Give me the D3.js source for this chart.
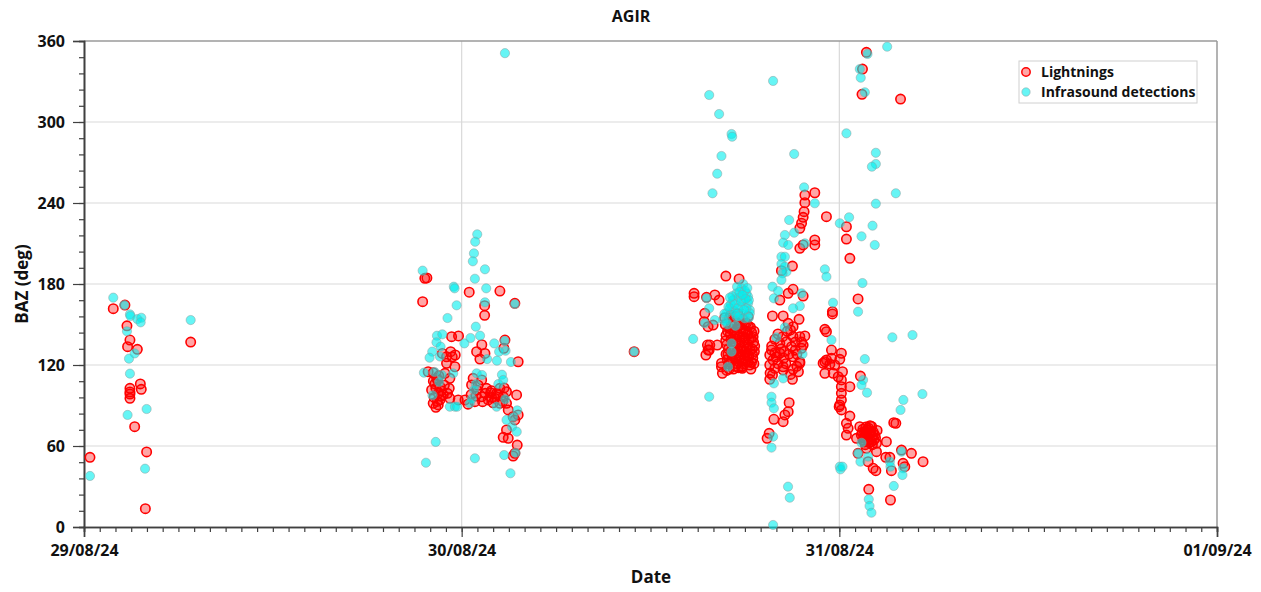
<!DOCTYPE html>
<html>
<head>
<meta charset="utf-8">
<script src="https://cdn.jsdelivr.net/npm/d3@7"></script>
<style>
  body { margin: 0; background: #fff; }
  text { font-family: "Open Sans", "Noto Sans", sans-serif; font-weight: bold; fill: #111; }
</style>
</head>
<body>
<script>
var w = 1261;
var h = 592;

// [hours since 29/08/24 00:00, BAZ in deg]
var lightningsDay29 = [
  [0.38,51.6],[1.86,161.7],[2.6,164.4],[2.73,149],[2.92,138.5],[2.77,133.6],[3.39,131.6],
  [3.58,106],[3.64,102],[2.92,102.7],[2.92,98.5],[2.92,95.3],[2.92,100],[3.22,74.3],
  [3.98,55.6],[3.9,13.6],[6.78,137]
];
var lightningsDay30 = [
  [21.66,184.2],[21.79,184.5],[21.52,166.9],[24.48,173.9],[26.43,174.8],[25.46,163.9],[25.46,156.8],
  [27.38,165.7],[23.36,141],[23.8,141.5],[22.77,128.6],[23.3,129.9],[23.4,126.1],[23.04,121.3],
  [23.57,118.7],[22.19,114.3],[21.87,115],[22.41,110.1],[22.94,113.8],[23.25,110.1],[22.62,104],
  [22.36,102.7],[23.21,102.7],[22.51,99],[22.83,97.8],[22.19,91.6],[22.51,90.4],[22.36,88.7],
  [22.62,94.1],[22.09,101.5],[23.25,95.3],[22.47,108.9],[24.73,110.1],[24.63,105.2],[25.27,108.9],
  [24.95,101.5],[25.58,102.7],[25.27,96.5],[24.84,92.8],[24.21,94.1],[23.78,94.1],[25.33,92.8],
  [25.69,94.1],[25.84,99.5],[26.75,138.5],[26.68,132.4],[24.95,129.9],[25.48,128.6],[27.59,122.4],
  [26.43,102.7],[26.22,99],[26.85,100.2],[26.64,96.5],[26.11,95.3],[26.43,91.6],[26.85,91.6],
  [26.96,86.7],[27.49,97.8],[27.27,81.7],[27.38,79.3],[26.85,71.9],[26.64,66.4],[26.96,65.7],
  [27.53,60.7],[27.38,54.6],[27.27,52.6],[27.59,83],[23.59,127.4],[23.04,126.1],[25.16,124.4],
  [25.28,135],[22.3,106],[22.7,97],[26.3,98],[26.6,93],[25.9,96],
  [22.25,96],[22.45,93],[22.7,101],[22.9,105],[23.1,99],[22.2,108],[22.55,112],[24.6,98],
  [24.9,97],[25.05,105],[25.5,99],[25.9,101],[26.0,92],[26.7,103],[24.4,91]
];
var lightningsDay31 = [
  [34.96,129.9],[38.77,173.1],[38.77,170.6],[39.56,170.1],[40.09,171.9],[40.36,168.1],[39.45,158.3],
  [39.41,152.1],[39.98,149.6],[39.66,148.4],[39.77,134.8],[39.66,131.1],[40.24,134.8],[39.52,127.4],
  [40.79,185.9],[41.63,183.7],[40.51,118.7],[40.57,113.8],[41.78,118.3],[40.51,121.3],[39.62,134.8],
  [39.73,131.1],[41.83,117.6],
  [40.75,150],[40.8,142],[40.85,135],[40.92,128],[40.97,121],[41.02,155],[41.05,147],[41.12,139],
  [41.15,131],[41.2,124],[41.27,117],[41.3,152],[41.35,144],[41.42,136],[41.45,129],[41.5,121],
  [41.55,158],[41.62,149],[41.65,141],[41.7,133],[41.75,126],[41.8,119],[41.87,154],[41.9,146],
  [41.95,138],[42.02,130],[42.05,123],[42.1,151],[42.17,143],[42.2,135],[42.25,127],[42.3,120],
  [42.35,148],[42.4,140],[42.45,132],[42.5,125],[42.55,137],[40.9,145],[41.22,137],[41.52,143],
  [41.82,130],[42.12,127],[42.42,122],[41.1,122],[41.6,127],[41.33,130],[42.0,140],[41.7,150],
  [42.6,130],[42.58,145],[40.8,128],
  [40.72,155],[40.78,138],[40.88,124],[40.95,132],[41.0,117],[41.08,143],[41.13,151],[41.18,127],
  [41.25,134],[41.28,146],[41.38,125],[41.4,156],[41.47,139],[41.53,132],[41.58,118],[41.6,153],
  [41.68,137],[41.72,145],[41.78,123],[41.85,141],[41.92,134],[41.97,150],[42.0,125],[42.07,145],
  [42.13,132],[42.18,122],[42.22,149],[42.28,139],[42.33,131],[42.38,117],[42.43,144],[42.48,128],
  [42.52,141],[42.57,121],[42.62,134],[41.9,121],[41.4,119],[40.85,116],[42.2,156],[41.1,157],
  [46.44,247.6],[45.81,245.9],[45.81,240.2],[45.76,233.6],[45.7,229.4],[45.6,225],[45.49,221.3],
  [47.18,229.9],[46.44,212.6],[46.44,208.9],[45.49,206.4],[45.7,208.9],[45.02,193.3],[44.32,189.9],
  [45.06,176.1],[45.7,171.1],[44.75,173.1],[44.22,168.1],[43.75,156.3],[44.43,156.3],[45.44,153.8],
  [44.75,150.9],[45.06,148.4],[47.56,159.5],[47.56,157.8],[47.08,146.4],[47.18,144.7],[43.9,139],
  [44.22,136.1],[44.64,137.3],[45.06,141],[45.49,141],[45.81,141.5],[43.69,131.1],[44.22,128.7],
  [44.96,133.6],[45.6,132.4],[45.7,134.8],[43.58,127.4],[43.79,123.7],[44.47,125],[45.06,126.1],
  [45.49,122.4],[43.58,120],[43.9,117.5],[44.43,118.7],[45.06,116.8],[45.49,121.3],[43.75,112.6],
  [43.58,109.4],[45.02,109.4],[44.43,116.3],[44.81,92.1],[44.75,85.4],[44.54,83],[44.43,78],
  [43.84,79.8],[43.54,69.4],[43.41,65.7],[47.08,122.4],[47.4,120.7],[47.71,120],[47.08,113.8],
  [47.61,113.8],[47.93,111.3],[47.99,89.1],[44.1,143],[44.9,146],[44.5,130],[43.7,134],[45.3,128],
  [44.1,121],[44.3,132],[44.6,121],[44.8,128],[45.2,137],[45.3,119],[44.0,126],[44.9,113],
  [45.6,137],[44.4,141],[43.6,114],[43.9,129],[45.2,131],[44.7,145],[45.4,115],
  [49.72,351.6],[49.47,339.2],[49.44,320.5],[51.89,317],[48.45,222.4],[48.45,213.3],[48.67,199],
  [49.19,168.9],[47.5,131.1],[47.18,123.7],[46.97,121.3],[47.5,125],[48.13,128.7],[48.03,124.2],
  [49.34,111.8],[48.2,115],[48.13,108.9],[48.13,103.9],[48.67,103.9],[48.13,99],[48.13,94.1],
  [48.03,90.4],[48.13,86.7],[48.67,82.2],[48.45,76.8],[48.56,73.1],[48.45,68.1],
  [49.3,74.3],[49.72,69.4],[50.25,68.1],[49.09,65.7],[49.87,73.1],[49.51,64.4],[50.04,63.2],
  [50.36,62],[50.99,63.2],[49.19,54.6],[49.72,58.3],[50.36,55.8],[49.83,48.4],[50.15,43.5],
  [50.32,41.7],[50.95,51.6],[51.21,51.6],[51.31,41.7],[51.95,57],[52.05,47.2],[52.16,44.7],
  [52.58,54.6],[53.32,48.4],[51.46,77.3],[51.59,76.8],[49.87,27.9],[51.25,20],
  [49.6,70.5],[49.8,66.5],[50.0,71],[50.1,67],[49.9,62.5],[49.4,68],[50.2,64.5],[49.65,61],
  [50.05,74.5],[49.5,72.5],
  [49.55,66],[49.75,72],[49.95,69],[50.15,70.5],[49.85,64],[50.3,66],[49.45,70],[49.68,74],
  [50.1,61],[49.95,75],[50.4,71.5],[49.6,63]
];

var infrasoundDay29 = [
  [0.38,37.8],[1.86,169.9],[2.56,164.4],[2.92,157.5],[2.95,156.3],[3.39,154],[3.64,155],[3.6,151.6],
  [2.73,145],[3.22,128.6],[2.86,124.7],[2.92,113.6],[2.77,83],[3.98,87.4],[3.88,43.2],[6.78,153.3]
];
var infrasoundDay30 = [
  [24.99,216.8],[24.86,211.3],[24.78,202.7],[24.71,196.8],[25.48,190.9],[21.52,189.9],[24.84,183.9],
  [23.5,178],[23.55,176.8],[25.56,176.8],[25.48,166.4],[27.38,165.2],[23.68,164.2],[23.1,154.8],
  [24.9,148.4],[22.43,141.7],[22.77,142.7],[24.56,140],[25.17,141.7],[24.17,136],[26.07,136],
  [26.73,137.8],[26.79,130.6],[26.38,129.9],[22.4,136.8],[22.13,129.9],[21.96,125.4],[22.66,133.6],
  [22.62,126.3],[25.62,124.4],[26.24,123.2],[27.13,122.2],[21.6,114.3],[22.28,114.8],[22.74,112.6],
  [23.46,113.8],[24.95,113.8],[25.29,112.6],[26.56,112.8],[26.64,108.9],[22.57,107.4],[24.9,105.9],
  [26.33,105.9],[22.15,97.6],[24.78,101.5],[24.65,95],[26.77,94.6],[23.25,89.1],[23.57,89.1],
  [23.71,89.1],[24.52,91.6],[26.22,89.1],[27.53,86.4],[27.28,81.3],[26.85,79.3],[27.2,74.3],
  [27.5,70.6],[22.35,63],[21.73,47.6],[24.84,50.9],[26.7,53.3],[27.43,55],[27.1,39.8],[26.75,351]
];
var infrasoundDay31 = [
  [34.96,129.9],[39.73,320],[40.36,305.9],[41.15,291.1],[41.19,289.1],[40.51,274.8],[40.24,261.7],
  [39.94,247.2],[38.71,139.3],[39.73,96.5],
  [41.89,180],[42.1,173],[41.78,176.8],[41.46,173],[41.25,168],[42.2,165.7],[42.31,160.7],[41.04,162],
  [40.83,158.3],[40.62,153.3],[40.09,153.3],[41.46,155.8],[41.99,154.6],[39.56,169.4],[39.73,162],
  [39.45,150.9],[41.15,136],[41.15,129.9],[40.93,118.7],[42.2,170.6],[42.31,158.3],
  [41.6,170],[41.9,168],[42.0,175],[41.3,160],[41.7,163],[42.1,162],[41.5,178],[41.8,158],
  [42.25,168],[41.1,165],[40.9,150],[41.4,149],
  [40.7,158],[40.95,163],[41.2,171],[41.35,165],[41.55,162],[41.65,174],[41.75,167],[41.95,161],
  [42.05,169],[42.15,177],[41.85,172],[41.4,158],[40.8,152],[42.25,155],[41.6,156],[41.05,170],
  [43.79,330.4],[45.13,276.3],[45.76,251.6],[46.44,239.8],[44.81,227.4],[45.13,218],[44.54,216.3],
  [45.81,210.1],[44.43,210.6],[44.75,208.9],[44.32,200.2],[44.54,200.2],[44.32,194.8],[44.54,192.8],
  [44.64,189.1],[44.39,187.9],[44.32,183],[47.08,190.9],[47.18,185.4],[43.75,178],[44.11,174.8],
  [43.84,169.4],[45.6,173.1],[45.49,163.7],[45.06,162],[47.6,166.1],[44.0,140.5],[44.54,147.9],
  [47.5,138.5],[45.66,128.1],[44.43,110.1],[43.84,106.4],[43.69,96.5],[43.69,92.1],[43.84,87.9],
  [43.79,66.9],[43.69,58.8],[44.74,29.9],[44.85,21.7],[43.79,1.5],[48.03,44.7],[48.03,225],
  [51.04,355.8],[49.79,350.4],[49.3,339.2],[49.36,332.8],[49.62,322],[48.45,291.6],[50.32,277.2],
  [50.32,268.9],[50.07,266.9],[51.59,247.2],[50.32,239.5],[48.62,229.4],[50.11,223.2],[49.41,215.3],
  [50.25,208.9],[49.47,180.7],[49.19,159.5],[51.37,140.5],[52.65,142.2],[49.62,124.4],[49.51,108.9],
  [49.41,105.2],[49.76,99.5],[53.28,98.5],[52.07,94.1],[51.89,86.7],[49.41,62.4],[49.19,54.6],
  [49.34,48.4],[49.83,52.1],[48.07,42.7],[48.2,44.7],[51.95,55.8],[51.21,48.4],[51.25,44.7],
  [52.05,43.5],[52.01,38.5],[51.46,30.4],[49.87,20.5],[49.92,15.6],[50.04,10.6]
];

var startDay = Date.UTC(2024, 7, 29);
var endDay = Date.UTC(2024, 8, 1);
var yTicks = [0, 60, 120, 180, 240, 300, 360];
var seriesNames = ["Lightnings", "Infrasound detections"];

var lightnings = lightningsDay29.concat(lightningsDay30, lightningsDay31);
var infrasound = infrasoundDay29.concat(infrasoundDay30, infrasoundDay31);

var padLeft = 84, padRight = 1217, padTop = 41, padBottom = 527;

var xScale = d3.scaleUtc()
    .domain([new Date(startDay), new Date(endDay)])
    .range([padLeft, padRight]);
var yScale = d3.scaleLinear()
    .domain([0, 360])
    .range([padBottom, padTop]);

function toDate(hr) { return new Date(startDay + hr * 3600000); }

var svg = d3.select("body").append("svg")
    .attr("width", w)
    .attr("height", h);

// grid
svg.append("g").selectAll("line")
    .data(yTicks.slice(1, -1))
    .enter().append("line")
    .attr("x1", padLeft).attr("x2", padRight)
    .attr("y1", function(d) { return yScale(d); })
    .attr("y2", function(d) { return yScale(d); })
    .attr("stroke", "#d9d9d9").attr("stroke-width", 1.2);

var days = d3.utcDay.range(new Date(startDay), new Date(endDay + 1));
svg.append("g").selectAll("line")
    .data(days.slice(1, -1))
    .enter().append("line")
    .attr("y1", padTop).attr("y2", padBottom)
    .attr("x1", function(d) { return xScale(d); })
    .attr("x2", function(d) { return xScale(d); })
    .attr("stroke", "#d9d9d9").attr("stroke-width", 1.2);

// frame (top / right)
svg.append("line").attr("x1", padLeft).attr("x2", padRight).attr("y1", padTop).attr("y2", padTop)
    .attr("stroke", "#9a9a9a").attr("stroke-width", 1.5);
svg.append("line").attr("x1", padRight).attr("x2", padRight).attr("y1", padTop).attr("y2", padBottom)
    .attr("stroke", "#9a9a9a").attr("stroke-width", 1.5);

// axes
var yMinor = svg.append("g").attr("transform", "translate(" + padLeft + ",0)")
    .call(d3.axisLeft(yScale).tickValues(d3.range(0, 361, 12)).tickSize(5).tickFormat(""));
var yAxis = svg.append("g").attr("transform", "translate(" + padLeft + ",0)")
    .call(d3.axisLeft(yScale).tickValues(yTicks).tickSize(11).tickPadding(8));
var xMinor = svg.append("g").attr("transform", "translate(0," + padBottom + ")")
    .call(d3.axisBottom(xScale).ticks(d3.utcHour.every(1)).tickSize(5).tickFormat(""));
var xAxis = svg.append("g").attr("transform", "translate(0," + padBottom + ")")
    .call(d3.axisBottom(xScale).ticks(d3.utcDay.every(1)).tickSize(10).tickPadding(8)
        .tickFormat(d3.utcFormat("%d/%m/%y")));

[yMinor, yAxis, xMinor, xAxis].forEach(function(g) {
    g.selectAll("path").attr("stroke", "#404040").attr("stroke-width", 1.6);
    g.selectAll("line").attr("stroke", "#404040").attr("stroke-width", 1.2);
    g.selectAll("text").style("font-size", "16px").attr("fill", "#111");
});

// points
svg.append("g").selectAll("circle")
    .data(lightnings)
    .enter().append("circle")
    .attr("cx", function(d) { return xScale(toDate(d[0])); })
    .attr("cy", function(d) { return yScale(d[1]); })
    .attr("r", 4.7)
    .attr("fill", "rgba(255,0,0,0.35)")
    .attr("stroke", "#ff0000")
    .attr("stroke-width", 1.6);

svg.append("g").selectAll("circle")
    .data(infrasound)
    .enter().append("circle")
    .attr("cx", function(d) { return xScale(toDate(d[0])); })
    .attr("cy", function(d) { return yScale(d[1]); })
    .attr("r", 4.6)
    .attr("fill", "rgba(0,238,238,0.6)")
    .attr("stroke", "rgba(140,160,160,0.5)")
    .attr("stroke-width", 1);

// titles
svg.append("text").attr("x", 631).attr("y", 22).attr("text-anchor", "middle")
    .style("font-size", "16px").text("AGIR");
svg.append("text").attr("x", 651).attr("y", 583).attr("text-anchor", "middle")
    .style("font-size", "17px").text("Date");
svg.append("text").attr("transform", "translate(28,284) rotate(-90)").attr("text-anchor", "middle")
    .style("font-size", "17px").text("BAZ (deg)");

// legend
var legend = svg.append("g");
legend.append("rect").attr("x", 1019).attr("y", 61).attr("width", 178).attr("height", 42)
    .attr("fill", "#fff").attr("stroke", "#d0d0d0").attr("stroke-width", 1);
var styles = [
    { fill: "rgba(255,0,0,0.35)", stroke: "#ff0000", sw: 1.5 },
    { fill: "rgba(0,238,238,0.6)", stroke: "rgba(140,160,160,0.5)", sw: 1 }
];
seriesNames.forEach(function(name, i) {
    legend.append("circle").attr("cx", 1026).attr("cy", 72 + i * 20).attr("r", 4.2)
        .attr("fill", styles[i].fill).attr("stroke", styles[i].stroke).attr("stroke-width", styles[i].sw);
    legend.append("text").attr("x", 1041).attr("y", 77 + i * 20)
        .style("font-size", "14px").text(name);
});
</script>
</body>
</html>
